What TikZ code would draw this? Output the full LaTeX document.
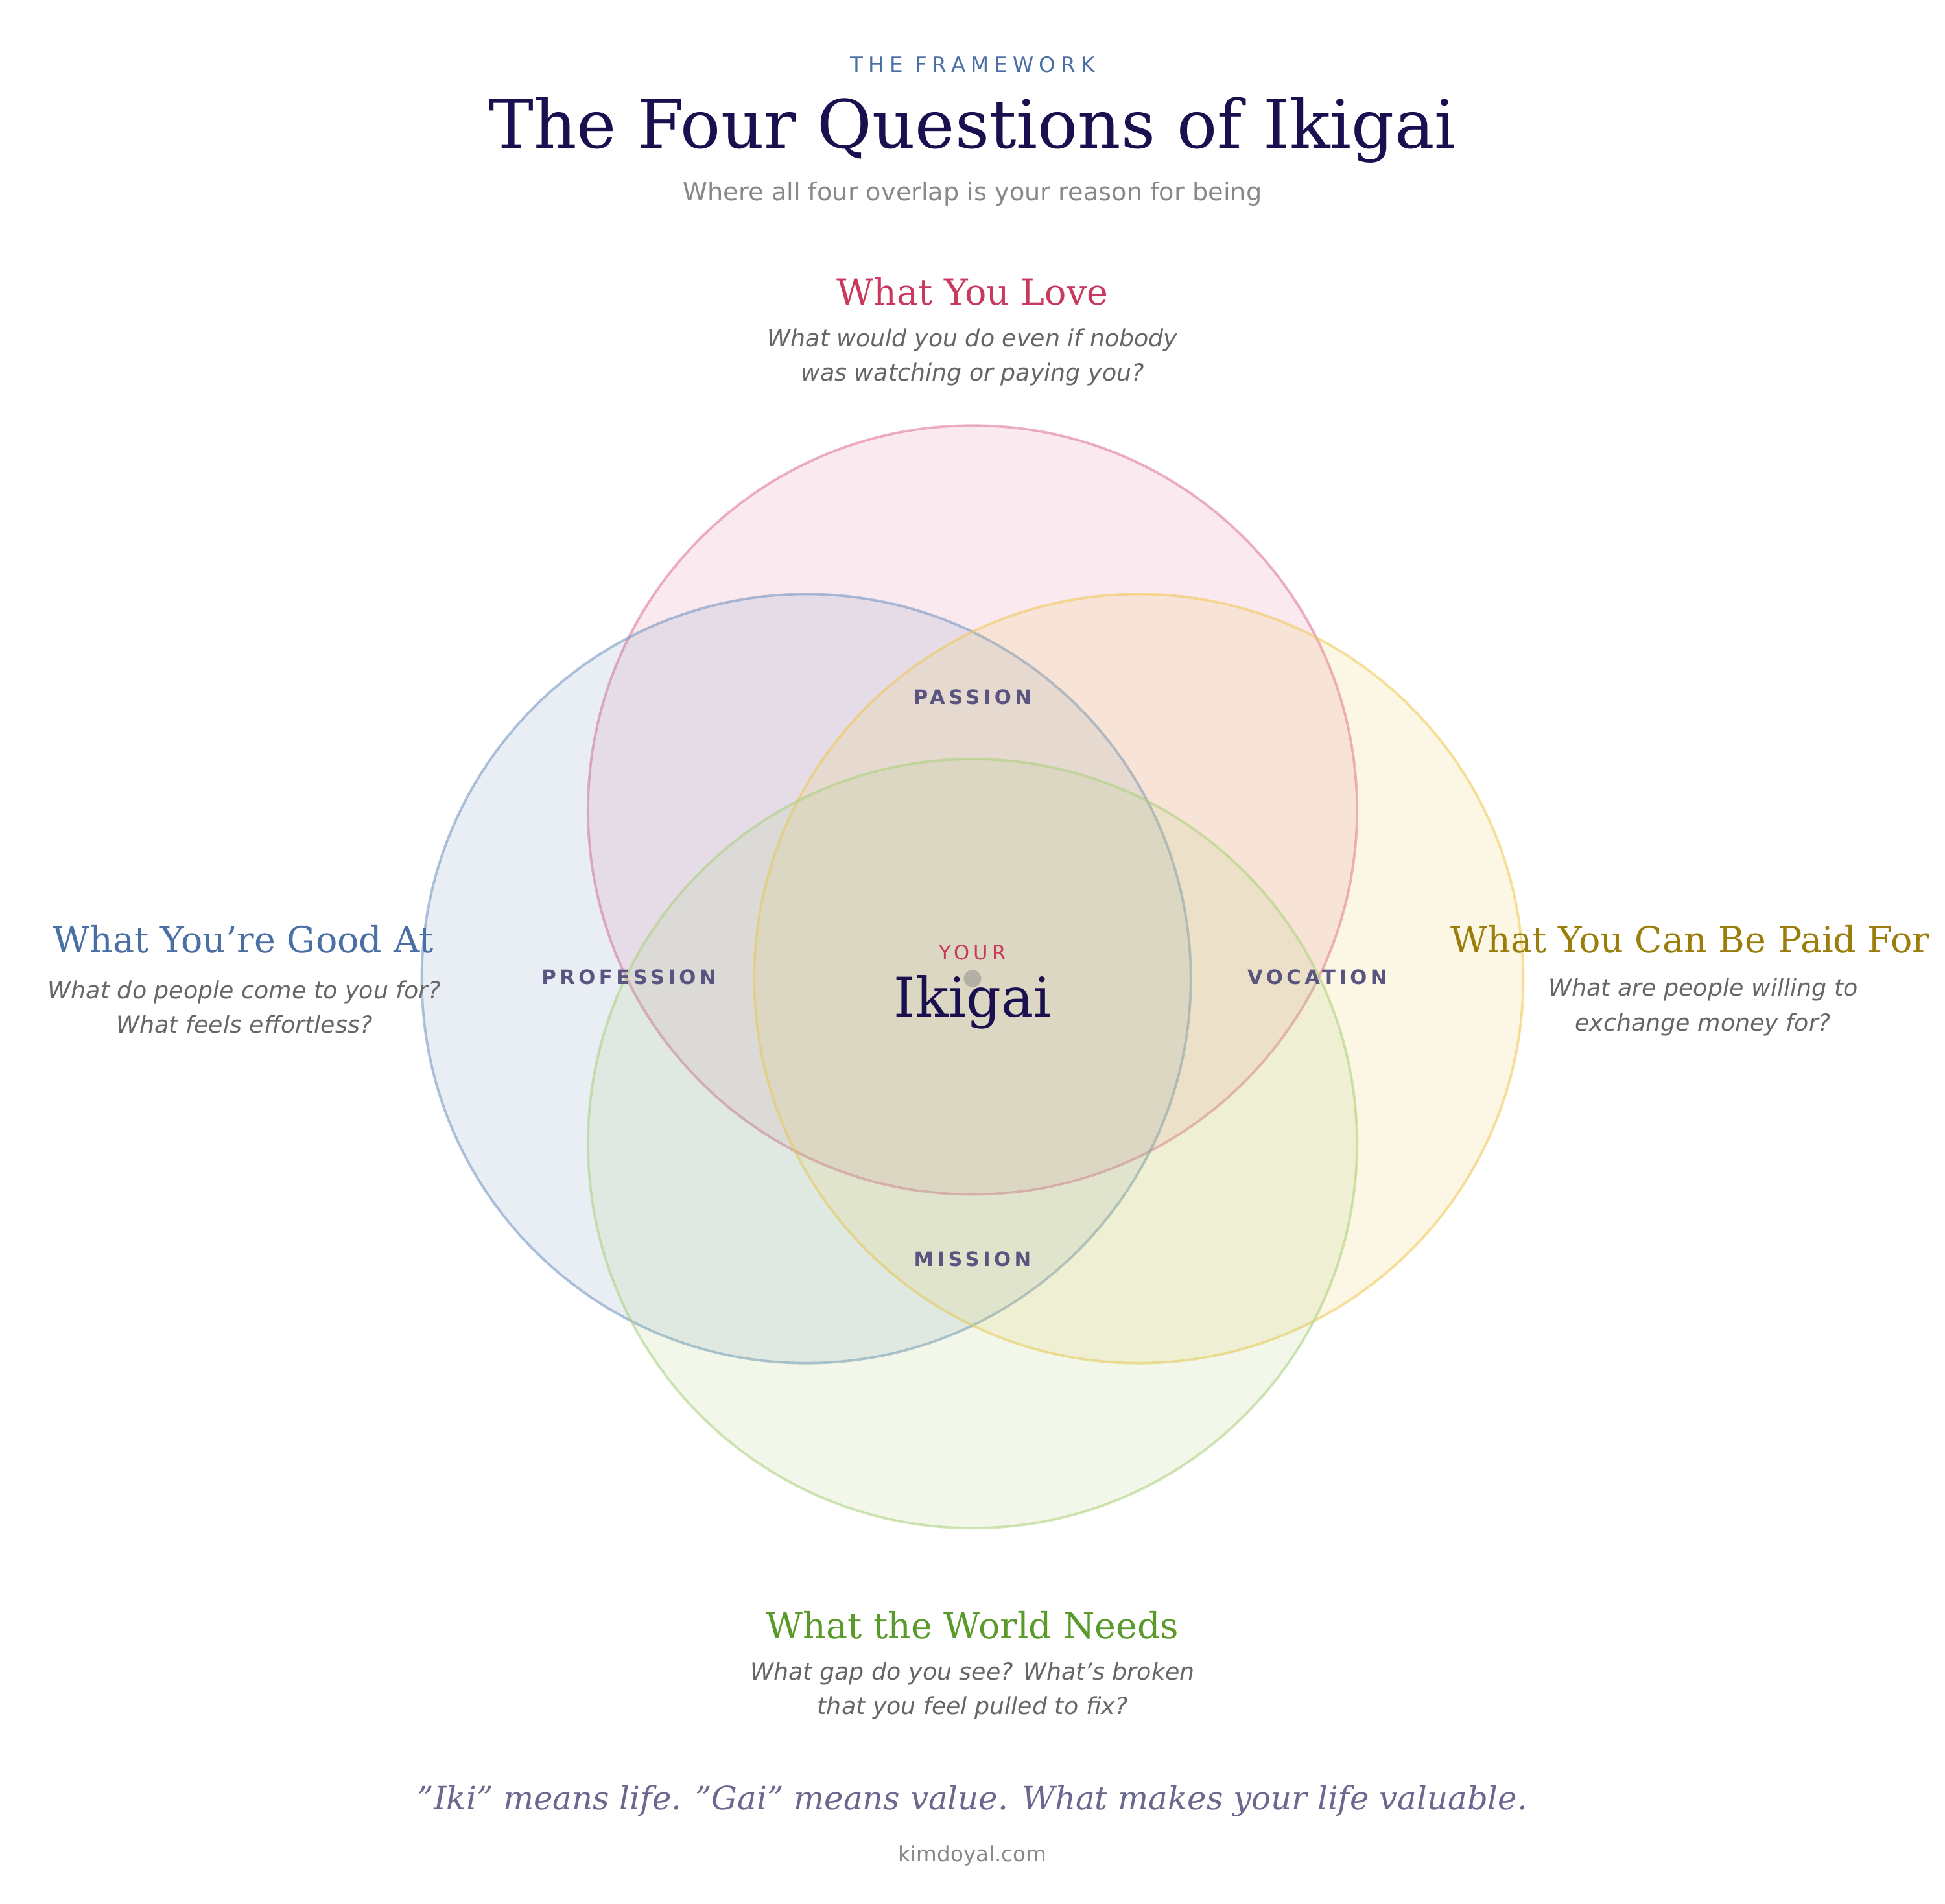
\documentclass[tikz,border=0pt]{standalone}
\usepackage{fontspec}
\setmainfont{DejaVu Serif}
\setsansfont{DejaVu Sans}
\definecolor{navy}{HTML}{1A1050}
\definecolor{lblue}{HTML}{4A6FA5}
\definecolor{crim}{HTML}{C8385F}
\definecolor{olive}{HTML}{9A7D0A}
\definecolor{grn}{HTML}{5A9A2A}
\definecolor{qgray}{HTML}{666666}
\definecolor{lgray}{HTML}{888888}
\definecolor{zone}{HTML}{5A5580}
\definecolor{quote}{HTML}{6B6890}
\definecolor{cLove}{HTML}{E0709A}
\definecolor{cGood}{HTML}{6F92C0}
\definecolor{cPaid}{HTML}{F0C850}
\definecolor{cWorld}{HTML}{A8D078}
\newcommand{\fs}[1]{\fontsize{#1}{#1}\selectfont}
\tikzset{x=1pt,y=-1pt,
 circ/.style={line width=2pt,draw opacity=0.55,fill opacity=0.15},
 qtext/.style={font=\sffamily\itshape\fs{19},text=qgray,align=center},
 head/.style={font=\fs{29}},
 zonet/.style={font=\sffamily\bfseries\fs{16}\addfontfeature{LetterSpace=18},text=zone}}
\begin{document}
\begin{tikzpicture}
\useasboundingbox (0,0) rectangle (1568,1535);
\fill[white] (0,0) rectangle (1568,1535);
\path[circ,draw=cLove,fill=cLove] (784,653) circle (310);
\path[circ,draw=cGood,fill=cGood] (650,789) circle (310);
\path[circ,draw=cPaid,fill=cPaid] (918,789) circle (310);
\path[circ,draw=cWorld,fill=cWorld] (784,922) circle (310);
\node[font=\sffamily\fs{17}\addfontfeature{LetterSpace=25},text=lblue] (kick) at (784,52) {THE FRAMEWORK};
\node[font=\fs{54},text=navy] (title) at (784,105) {The Four Questions of Ikigai};
\node[font=\sffamily\fs{20},text=lgray] (sub) at (784,156) {Where all four overlap is your reason for being};
\node[head,text=crim] (love) at (784,235) {What You Love};
\node[qtext] (loveq) at (784,288) {What would you do even if nobody\\[9pt]was watching or paying you?};
\node[head,text=lblue] (good) at (196,757) {What You're Good At};
\node[qtext] (goodq) at (197,812) {What do people come to you for?\\[9pt]What feels effortless?};
\node[head,text=olive,anchor=west] (paid) at (1166,757) {What You Can Be Paid For};
\node[qtext] (paidq) at (1373,812) {What are people willing to\\[9pt]exchange money for?};
\node[head,text=grn] (world) at (784,1310) {What the World Needs};
\node[qtext] (worldq) at (784,1363) {What gap do you see? What's broken\\[9pt]that you feel pulled to fix?};
\node[zonet] (pas) at (784,562) {PASSION};
\node[zonet] (pro) at (507,788) {PROFESSION};
\node[zonet] (voc) at (1062,788) {VOCATION};
\node[zonet] (mis) at (784,1015) {MISSION};
\fill[gray,opacity=0.45] (784,789) circle (7);
\node[font=\sffamily\fs{16}\addfontfeature{LetterSpace=20},text=crim] (your) at (784,768) {YOUR};
\node[font=\fs{44},text=navy] (iki) at (784,808) {Ikigai};
\node[font=\itshape\fs{26},text=quote] (q) at (784,1452) {"Iki" means life. "Gai" means value. What makes your life valuable.};
\node[font=\sffamily\fs{17},text=lgray] (site) at (784,1496) {kimdoyal.com};
\end{tikzpicture}
\end{document}
